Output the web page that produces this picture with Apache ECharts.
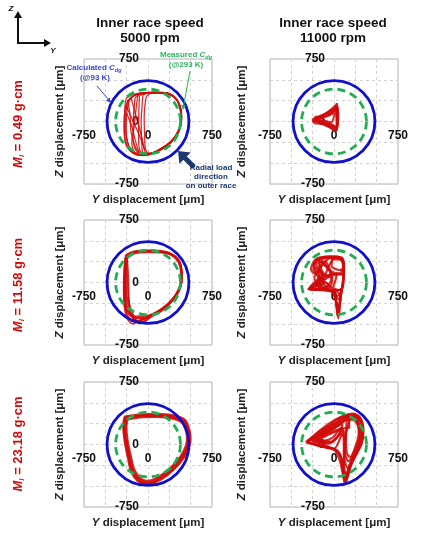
<!DOCTYPE html>
<html><head><meta charset="utf-8">
<script src="https://cdn.jsdelivr.net/npm/echarts@6/dist/echarts.min.js"></script>
<style>html,body{margin:0;padding:0;background:#fff}#c{width:421px;height:537px}</style>
</head><body><div id="c"></div>
<script>
// ---------- DATA ----------
const colTitles = [['Inner race speed', '5000 rpm'], ['Inner race speed', '11000 rpm']];
const rowImbalance = ['0.49', '11.58', '23.18'];
const axisMin = -750, axisMax = 750, axisStep = 250;
const tickLabels = [-750, 0, 750];
const calcClearance = 480;   // blue circle radius, µm
const measClearance = 380;   // green dashed circle radius, µm

// orbits [Y, Z] in µm
const orbit_049_5000 = [
 [[-211,281],[-120,330],[0,345],[150,345],[277,320],[340,260],[385,150],[395,30],[360,-120],[280,-240],[170,-330],[60,-385],[-60,-410],[-170,-380],[-250,-300],[-277,-170],[-280,-20],[-270,140],[-240,240],[-211,281]],
 [[-180,300],[-60,345],[90,352],[240,335],[330,270],[375,160],[390,40],[365,-100],[300,-220],[200,-310],[80,-370],[-40,-395],[-150,-370],[-220,-300],[-250,-180],[-255,-20],[-245,130],[-220,240],[-180,300]],
 [[-150,290],[-60,340],[80,350],[250,330],[350,240],[390,100],[380,-60],[320,-190],[210,-300],[80,-370],[-40,-400],[-130,-360],[-170,-250],[-175,-100],[-170,60],[-160,200],[-150,290]],
 [[-20,300],[60,350],[200,345],[320,280],[380,150],[392,0],[340,-150],[250,-260],[130,-340],[20,-385],[-30,-330],[-40,-150],[-45,50],[-35,200],[-20,300]],
 [[-230,250],[-150,320],[-30,340],[120,340],[260,320],[345,250],[380,120],[385,-20],[350,-140],[260,-250],[150,-330],[40,-380],[-80,-400],[-190,-350],[-240,-250],[-265,-100],[-265,60],[-250,180],[-230,250]],
 [[-100,310],[0,345],[170,345],[300,300],[370,200],[395,60],[370,-90],[290,-220],[180,-310],[60,-375],[-50,-395],[-100,-330],[-110,-180],[-110,0],[-105,170],[-100,310]],
 [[-270,180],[-250,280],[-150,330],[0,345],[200,345],[320,285],[380,160],[392,20],[355,-110],[270,-235],[160,-320],[40,-385],[-90,-405],[-200,-360],[-260,-240],[-278,-60],[-270,180]],
 [[-60,320],[40,350],[200,345],[310,290],[375,170],[390,40],[360,-100],[280,-230],[160,-320],[40,-380],[-60,-370],[-75,-200],[-80,0],[-70,180],[-60,320]],
 [[-260,200],[-200,60],[-130,-100],[-70,-250],[-30,-380]],
 [[-200,290],[-150,100],[-90,-120],[-40,-340]],
 [[-240,260],[-210,80],[-200,-120],[-150,-300],[-80,-400]],
 [[-120,320],[-140,150],[-160,-50],[-190,-250],[-170,-370]],
 [[-250,100],[-190,-60],[-150,-220],[-110,-350],[-60,-400]]
];
const orbit_049_11000 = [
 [[35,220],[10,170],[-50,120],[-130,80],[-200,50],[-235,20],[-200,-10],[-120,-40],[-40,-75],[15,-115],[40,-60],[45,40],[42,140],[35,220]],
 [[30,190],[-20,140],[-100,95],[-180,55],[-220,30],[-170,0],[-90,-30],[-10,-70],[25,-100],[40,-20],[40,90],[30,190]],
 [[45,160],[0,130],[-70,100],[-150,60],[-200,35],[-150,10],[-60,-20],[0,-50],[20,-90],[45,-30],[50,60],[45,160]],
 [[20,200],[-30,150],[-110,90],[-190,45],[-240,10],[-230,-20],[-160,-25],[-80,-50],[-20,-90],[30,-110],[35,-40],[30,80],[20,200]],
 [[-230,40],[-250,20],[-240,-5],[-200,10],[-180,40],[-210,60],[-230,40]],
 [[10,110],[-60,70],[-140,40],[-100,10],[-30,-10],[-5,40],[10,110]],
 [[40,180],[-10,120],[-80,80],[-160,40],[-215,15],[-140,-15],[-60,-45],[10,-80],[35,-60],[38,60],[40,180]],
 [[25,140],[-40,90],[-120,50],[-190,20],[-120,-5],[-40,-35],[15,-60],[30,0],[25,140]]
];
const orbit_1158_5000 = [
 [[-260,330],[-180,370],[-50,385],[100,380],[250,350],[350,280],[390,170],[400,60],[380,-60],[320,-170],[230,-280],[120,-370],[0,-420],[-120,-430],[-220,-390],[-265,-280],[-275,-100],[-275,100],[-270,250],[-260,330]],
 [[-240,310],[-150,350],[0,362],[150,358],[280,325],[360,235],[385,100],[372,-40],[315,-160],[225,-265],[105,-350],[-15,-398],[-140,-405],[-220,-355],[-252,-240],[-258,-50],[-255,150],[-240,310]],
 [[-250,320],[-120,375],[60,385],[240,360],[360,270],[395,120],[385,-40],[320,-180],[200,-300],[60,-390],[-60,-440],[-160,-470],[-230,-420],[-270,-300],[-282,-100],[-275,120],[-250,320]],
 [[-265,300],[-150,365],[20,375],[200,365],[330,300],[390,180],[395,20],[350,-110],[260,-230],[140,-330],[20,-400],[-80,-450],[-180,-495],[-240,-440],[-275,-300],[-285,-80],[-280,150],[-265,300]],
 [[-255,325],[-160,360],[-20,372],[130,370],[265,338],[355,258],[392,140],[390,10],[345,-120],[250,-240],[130,-345],[10,-405],[-110,-425],[-205,-385],[-258,-290],[-268,-90],[-266,110],[-255,325]],
 [[-255,260],[-240,0],[-220,-250],[-150,-440],[-100,-490],[-40,-460],[40,-410]],
 [[-270,200],[-250,-150],[-200,-380],[-130,-470],[-60,-480],[20,-420]],
 [[-245,300],[-230,50],[-225,-200],[-190,-400],[-110,-460],[0,-420]]
];
const orbit_1158_11000 = [
 [[-180,300],[-50,315],[90,300],[115,200],[110,60],[95,-80],[70,-200],[50,-430],[25,-270],[0,-130],[-90,-95],[-300,-82],[-230,-20],[-150,40],[-220,150],[-240,240],[-180,300]],
 [[-120,305],[30,310],[105,260],[112,120],[100,-20],[80,-150],[55,-330],[20,-200],[-20,-110],[-130,-90],[-250,-60],[-180,10],[-100,60],[-160,180],[-170,270],[-120,305]],
 [[-230,250],[-150,295],[0,305],[100,280],[118,150],[105,0],[85,-110],[40,-160],[-30,-100],[-160,-80],[-280,-70],[-200,0],[-140,100],[-200,200],[-230,250]],
 [[-60,290],[60,300],[110,220],[100,100],[-20,95],[-100,80],[-180,130],[-120,230],[-60,290]],
 [[-240,200],[-150,120],[-50,60],[-10,100],[30,95],[-40,-85],[-150,-85],[-300,-80],[-200,-40],[-100,0],[-30,-60],[60,-90],[90,-80],[70,-250],[60,-400]],
 [[0,300],[-60,200],[-100,100],[-160,20],[-220,-40],[-290,-75]],
 [[-200,280],[-100,200],[-40,120],[-30,50],[-60,-20],[-120,-60],[-250,-70]],
 [[-20,-90],[90,-90],[60,-200],[10,-150],[-20,-90]],
 [[30,-100],[80,-180],[55,-300],[40,-380],[30,-250],[10,-150]],
 [[-250,230],[-270,160],[-230,110],[-160,150],[-190,240],[-250,230]],
 [[-150,280],[-40,300],[80,280],[110,180],[60,110],[-40,140],[-150,280]],
 [[-220,260],[-100,300],[50,305],[110,240],[115,100],[40,100],[-60,90],[-150,60],[-250,-20],[-290,-78],[-150,-90],[-40,-90],[0,-150],[30,-260],[45,-400]],
 [[-240,150],[-180,60],[-120,-20],[-60,-80],[40,-95],[100,-60],[115,80],[100,250],[20,300],[-120,300],[-220,240],[-240,150]],
 [[-160,250],[-80,180],[-40,110],[-100,40],[-200,-10],[-270,-60]],
 [[-100,260],[-150,200],[-200,120],[-230,60],[-180,-40],[-80,-70],[-30,-20],[-20,60],[-100,260]],
 [[-20,280],[90,270],[105,170],[60,150],[-30,200],[-20,280]],
 [[-180,90],[-120,20],[-60,-40],[-110,-60],[-200,-30],[-180,90]]
];
const orbit_2318_5000 = [
 [[-260,320],[-100,345],[100,350],[300,330],[420,280],[470,160],[480,60],[440,-80],[350,-220],[220,-350],[80,-440],[-20,-460],[-110,-420],[-180,-320],[-220,-150],[-260,50],[-275,220],[-260,320]],
 [[-240,300],[-90,325],[100,330],[290,310],[400,260],[448,150],[455,50],[415,-80],[330,-210],[205,-330],[70,-415],[-20,-435],[-95,-395],[-160,-300],[-200,-140],[-238,50],[-252,210],[-240,300]],
 [[-275,335],[-110,360],[100,368],[310,348],[435,295],[488,170],[500,60],[460,-90],[365,-235],[232,-365],[90,-455],[-20,-478],[-120,-440],[-195,-335],[-237,-160],[-275,45],[-292,225],[-275,335]],
 [[-250,310],[-95,338],[100,342],[295,322],[412,272],[460,158],[468,55],[428,-82],[340,-215],[212,-340],[75,-430],[-20,-450],[-105,-410],[-172,-312],[-212,-146],[-250,50],[-265,215],[-250,310]],
 [[-268,328],[-105,352],[100,358],[305,338],[428,288],[478,165],[490,58],[450,-85],[358,-228],[226,-358],[85,-448],[-20,-468],[-115,-430],[-188,-326],[-228,-154],[-268,48],[-283,222],[-268,328]]
];
const orbit_2318_11000 = [
 [[-330,25],[-200,140],[-60,250],[80,330],[220,370],[310,320],[345,160],[320,0],[260,-110],[180,-260],[130,-480],[100,-330],[60,-170],[0,-60],[-100,-30],[-230,0],[-330,25]],
 [[-300,30],[-170,140],[-30,250],[110,340],[240,350],[320,260],[330,110],[290,-40],[220,-180],[160,-330],[120,-420],[95,-250],[70,-120],[-10,-55],[-150,-20],[-300,30]],
 [[-260,50],[-130,150],[0,240],[140,330],[250,330],[300,220],[310,60],[260,-90],[190,-230],[140,-360],[115,-220],[115,-70],[105,160],[0,-50],[-120,0],[-260,50]],
 [[-320,40],[-180,120],[-40,210],[100,300],[200,360],[280,340],[330,230],[335,80],[290,-60],[210,-210],[150,-380],[110,-300],[80,-150],[20,-70],[-80,-40],[-200,-10],[-320,40]],
 [[-280,60],[-150,170],[20,260],[170,345],[290,300],[340,190],[325,30],[270,-100],[200,-250],[140,-440],[112,-280],[125,-60],[120,120],[90,200],[-20,80],[-150,40],[-280,60]],
 [[-200,60],[-80,140],[40,220],[100,240],[60,120],[-20,40],[-120,20],[-200,60]],
 [[-250,40],[-100,100],[20,170],[95,190],[30,80],[-60,10],[-250,40]],
 [[150,300],[250,280],[290,150],[260,0],[190,-150],[150,-100],[140,100],[150,300]],
 [[200,330],[280,250],[300,100],[250,-50],[170,-200],[130,-100],[135,80],[170,250],[200,330]],
 [[-310,35],[-150,120],[0,200],[120,290],[220,360],[300,310],[335,170],[310,20],[250,-120],[180,-280],[135,-460],[105,-320],[85,-160],[30,-65],[-120,-25],[-310,35]],
 [[-220,70],[-60,180],[80,260],[180,320],[260,300],[300,180],[290,40],[230,-120],[160,-280],[120,-150],[130,60],[80,120],[-30,30],[-220,70]],
 [[-150,90],[-30,170],[80,250],[160,300],[180,200],[140,200],[60,170],[-150,90]]
];
const panelOrbits = [orbit_049_5000, orbit_049_11000, orbit_1158_5000, orbit_1158_11000, orbit_2318_5000, orbit_2318_11000];

// ---------- LAYOUT ----------
const colLeft = [84, 270], rowTop = [59, 220, 382], GW = 128, GH = 125;
const panelLineWidth = [1.3, 2.0, 1.7, 2.2, 2.0, 2.2];
const FONT = 'Liberation Sans, Arial, sans-serif';
const RED = '#d00a0a', BLUE = '#1010c8', GREEN = '#1fae52';

const grids = [], xAxes = [], yAxes = [], series = [];
function labelFmt(v) { return tickLabels.indexOf(v) >= 0 ? String(v) : ''; }
function circleRenderer(color, dash) {
  return function (params, api) {
    const c = api.coord([api.value(0), api.value(1)]);
    const r = api.size([api.value(2), 0])[0];
    return { type: 'circle', shape: { cx: c[0], cy: c[1], r: r },
      style: { fill: 'none', stroke: color, lineWidth: 2.8, lineDash: dash } };
  };
}
for (let i = 0; i < 6; i++) {
  const r = Math.floor(i / 2), c = i % 2;
  grids.push({ left: colLeft[c], top: rowTop[r], width: GW, height: GH, show: true,
    borderColor: '#b4b4b4', borderWidth: 1, backgroundColor: '#fff' });
  const common = { type: 'value', gridIndex: i, min: axisMin, max: axisMax, interval: axisStep,
    axisLine: { show: false, onZero: false }, axisTick: { show: false },
    splitLine: { show: true, lineStyle: { type: [3, 3], color: '#d2d2d2', width: 1 } },
    axisLabel: { formatter: labelFmt, fontFamily: FONT, fontWeight: 'bold', fontSize: 12, color: '#111' } };
  xAxes.push(Object.assign({}, common, { position: 'bottom', offset: -GH / 2,
    axisLabel: Object.assign({}, common.axisLabel, { margin: 8 }) }));
  yAxes.push(Object.assign({}, common, { position: 'left', offset: -GW / 2,
    axisLabel: Object.assign({}, common.axisLabel, { margin: 9 }) }));
  panelOrbits[i].forEach(function (loop) {
    series.push({ type: 'line', xAxisIndex: i, yAxisIndex: i, data: loop, symbol: 'none', smooth: 0.3,
      silent: true, z: 2, lineStyle: { color: RED, width: panelLineWidth[i], opacity: 0.85 } });
  });
  series.push({ type: 'custom', xAxisIndex: i, yAxisIndex: i, data: [[0, 0, calcClearance]], silent: true, z: 3,
    renderItem: circleRenderer(BLUE, null) });
  series.push({ type: 'custom', xAxisIndex: i, yAxisIndex: i, data: [[0, 0, measClearance]], silent: true, z: 4,
    renderItem: circleRenderer(GREEN, [8, 5]) });
}

// ---------- TEXT / DECOR ----------
const g = [];
function txt(x, y, text, opts) {
  const o = Object.assign({ fontSize: 12, fontWeight: 'bold', fill: '#111', rotation: 0, rich: undefined }, opts || {});
  g.push({ type: 'text', x: x, y: y, rotation: o.rotation, z: 10,
    style: { text: text, fontFamily: FONT, fontSize: o.fontSize, fontWeight: o.fontWeight, fill: o.fill,
      align: 'center', verticalAlign: 'middle', rich: o.rich } });
}
function arrowHead(x1, y1, x2, y2, len, half, color) {
  const dx = x2 - x1, dy = y2 - y1, L = Math.hypot(dx, dy), ux = dx / L, uy = dy / L;
  const bx = x2 - ux * len, by = y2 - uy * len;
  g.push({ type: 'polygon', z: 10, shape: { points: [[x2, y2], [bx - uy * half, by + ux * half], [bx + uy * half, by - ux * half]] },
    style: { fill: color } });
}
function seg(x1, y1, x2, y2, color, w) {
  g.push({ type: 'line', z: 10, shape: { x1: x1, y1: y1, x2: x2, y2: y2 }, style: { stroke: color, lineWidth: w } });
}
const colCx = [150, 333];
colTitles.forEach(function (t, c) { txt(colCx[c], 23, t[0], { fontSize: 13.5 }); txt(colCx[c], 38, t[1], { fontSize: 13.5 }); });
const axRich = { it: { fontStyle: 'italic', fontWeight: 'bold', fontSize: 11.5, fontFamily: FONT, fill: '#222' },
                 n: { fontWeight: 'bold', fontSize: 11.5, fontFamily: FONT, fill: '#222' } };
const zX = [60, 242];
for (let r = 0; r < 3; r++) {
  for (let c = 0; c < 2; c++) {
    const cx = colLeft[c] + GW / 2, cy = rowTop[r] + GH / 2;
    txt(cx, rowTop[r] + GH + 16, '{it|Y}{n| displacement [μm]}', { rich: axRich, fill: '#222' });
    txt(zX[c], cy, '{it|Z}{n| displacement [μm]}', { rich: axRich, fill: '#222', rotation: Math.PI / 2 });
  }
  const rowRich = { m: { fontStyle: 'italic', fontWeight: 'bold', fontSize: 13, fontFamily: FONT, fill: RED },
                    s: { fontStyle: 'italic', fontWeight: 'bold', fontSize: 8, fontFamily: FONT, fill: RED, padding: [7, 0, 0, 0] },
                    t: { fontWeight: 'bold', fontSize: 13, fontFamily: FONT, fill: RED } };
  txt(18, [124, 285, 444][r], '{m|M}{s|i}{t| = ' + rowImbalance[r] + ' g·cm}', { rich: rowRich, rotation: Math.PI / 2 });
}
const ANB = '#3a48cc', ANG = '#2eb35a', NAVY = '#1c3670';
function subRich(col) {
  return { a: { fontWeight: 'bold', fontSize: 8, fontFamily: FONT, fill: col },
           c: { fontWeight: 'bold', fontStyle: 'italic', fontSize: 8, fontFamily: FONT, fill: col },
           s: { fontWeight: 'bold', fontStyle: 'italic', fontSize: 5.5, fontFamily: FONT, fill: col, padding: [4, 0, 0, 0] } };
}
txt(94, 68, '{a|Calculated }{c|C}{s|dg}', { rich: subRich(ANB) });
txt(95, 78, '(@93 K)', { fontSize: 8, fill: ANB });
seg(97, 86, 109, 100, ANB, 1);
arrowHead(97, 86, 111, 103, 5, 2.5, ANB);
txt(186, 55, '{a|Measured }{c|C}{s|dg}', { rich: subRich(ANG) });
txt(186, 65, '(@293 K)', { fontSize: 8, fill: ANG });
seg(190, 71, 183.5, 106, ANG, 1);
arrowHead(190, 71, 182.8, 110, 5, 2.5, ANG);
txt(211, 168, 'Radial load', { fontSize: 8, fill: NAVY });
txt(211, 177, 'direction', { fontSize: 8, fill: NAVY });
txt(211, 186, 'on outer race', { fontSize: 8, fill: NAVY });
seg(194, 167, 184, 157, NAVY, 5);
arrowHead(194, 167, 178, 151, 10, 8, NAVY);
seg(18, 44, 18, 17, '#111', 2);
arrowHead(18, 44, 18, 11, 7, 4, '#111');
seg(17, 43, 45, 43, '#111', 2);
arrowHead(17, 43, 51, 43, 7, 4, '#111');
g.push({ type: 'text', x: 11, y: 9, z: 10, style: { text: 'Z', fontFamily: FONT, fontSize: 8, fontStyle: 'italic', fontWeight: 'bold', fill: '#111', align: 'center', verticalAlign: 'middle' } });
g.push({ type: 'text', x: 53, y: 51, z: 10, style: { text: 'Y', fontFamily: FONT, fontSize: 8, fontStyle: 'italic', fontWeight: 'bold', fill: '#111', align: 'center', verticalAlign: 'middle' } });

const chart = echarts.init(document.getElementById('c'), null, { renderer: 'canvas' });
chart.setOption({ animation: false, backgroundColor: '#fff', grid: grids, xAxis: xAxes, yAxis: yAxes, series: series, graphic: g });
</script></body></html>
